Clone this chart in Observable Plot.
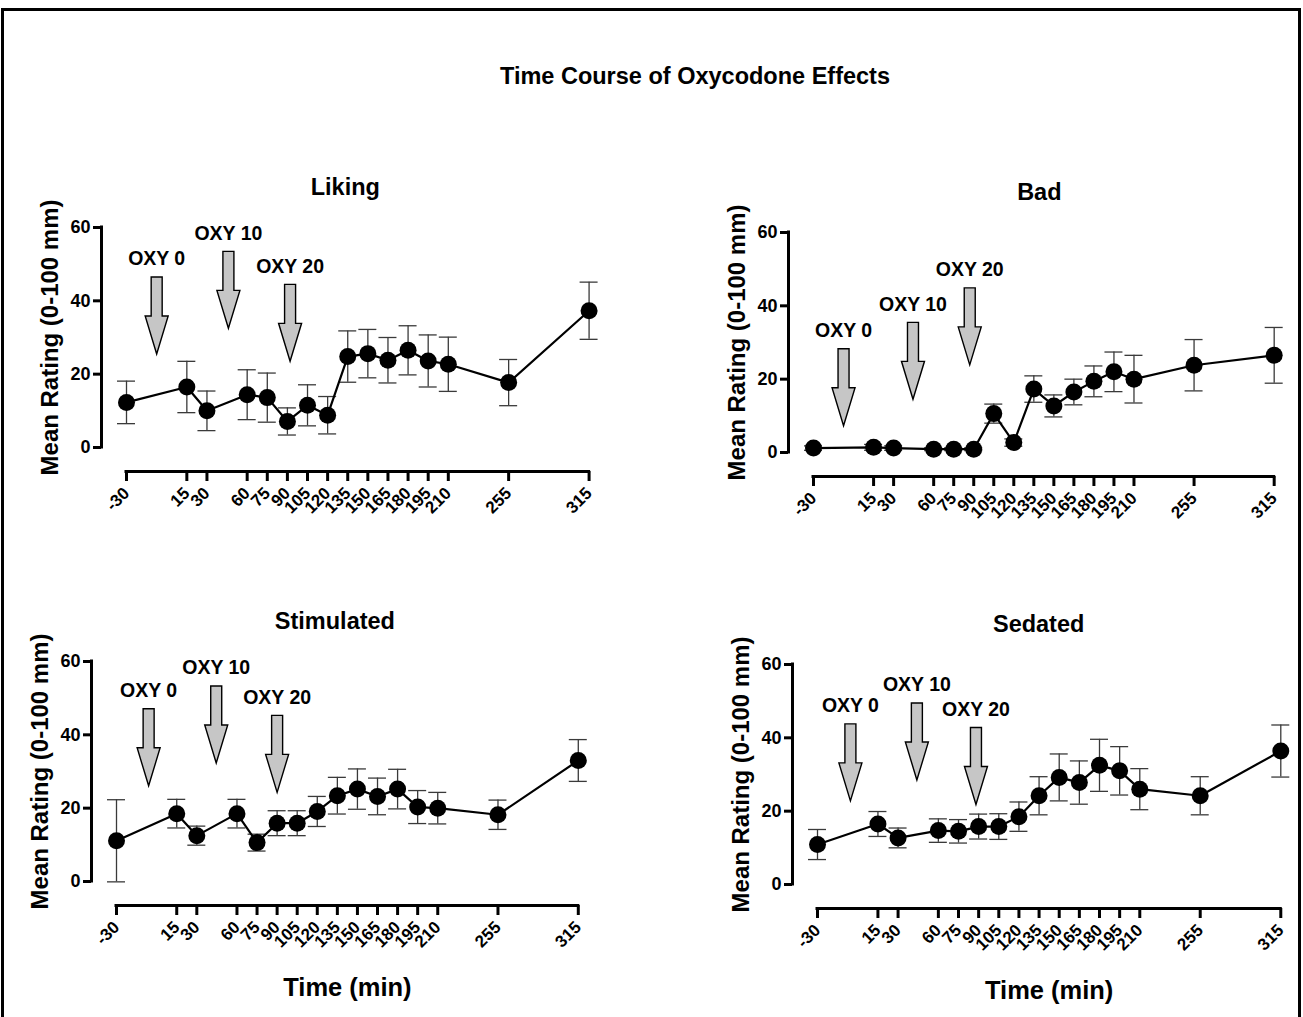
<!DOCTYPE html>
<html><head><meta charset="utf-8">
<script src="https://cdn.jsdelivr.net/npm/d3@7"></script>
<script src="https://cdn.jsdelivr.net/npm/@observablehq/plot@0.6"></script>
<style>
html,body{margin:0;padding:0;background:#fff;overflow:hidden;}
body{width:1303px;height:1017px;position:relative;font-family:"Liberation Sans",Arial,Helvetica,sans-serif;}
#border{position:absolute;left:1px;top:8px;width:1300px;height:1100px;border:3px solid #000;box-sizing:border-box;}
#title{position:absolute;left:0;width:1390px;top:62px;text-align:center;font-weight:bold;font-size:23.5px;line-height:28px;}
.panel{position:absolute;}
</style></head><body>
<div id="border"></div>
<div id="title">Time Course of Oxycodone Effects</div>
<script>
// ---- data ----
const times = [-30, 15, 30, 60, 75, 90, 105, 120, 135, 150, 165, 180, 195, 210, 255, 315];
const xTicks = [-30, 15, 30, 60, 75, 90, 105, 120, 135, 150, 165, 180, 195, 210, 255, 315];
const yTicks = [0, 20, 40, 60];
const panelTitles = ["Liking", "Bad", "Stimulated", "Sedated"];
const yLabel = "Mean Rating (0-100 mm)";
const xLabel = "Time (min)";
const doseLabels = ["OXY 0", "OXY 10", "OXY 20"];

const likingMean = [12.3, 16.5, 10.0, 14.4, 13.6, 7.1, 11.5, 8.8, 24.8, 25.6, 23.8, 26.5, 23.6, 22.7, 17.7, 37.3];
const likingSem  = [5.8, 7.0, 5.4, 6.8, 6.7, 3.7, 5.6, 5.1, 7.0, 6.6, 6.2, 6.7, 7.1, 7.4, 6.3, 7.8];
const badMean = [1.2, 1.4, 1.2, 0.9, 0.9, 0.9, 10.6, 2.7, 17.3, 12.7, 16.5, 19.4, 22.0, 20.0, 23.8, 26.5];
const badSem  = [0.6, 0.8, 0.6, 0.4, 0.4, 0.4, 2.6, 1.0, 3.6, 3.0, 3.5, 4.2, 5.4, 6.5, 7.0, 7.6];
const stimMean = [11.1, 18.5, 12.5, 18.5, 10.6, 15.9, 15.9, 19.1, 23.4, 25.2, 23.2, 25.2, 20.3, 20.0, 18.2, 33.0];
const stimSem  = [11.2, 3.9, 2.6, 3.9, 2.3, 3.4, 3.4, 4.1, 5.0, 5.5, 5.0, 5.4, 4.5, 4.3, 4.0, 5.7];
const sedMean = [10.9, 16.5, 12.7, 14.7, 14.5, 15.8, 15.8, 18.5, 24.2, 29.2, 27.8, 32.5, 31.0, 26.0, 24.2, 36.4];
const sedSem  = [4.1, 3.4, 2.7, 3.2, 3.2, 3.4, 3.5, 4.0, 5.2, 6.4, 5.9, 7.1, 6.6, 5.6, 5.2, 7.1];

// dose arrows: time position and tip rating
const likingArrowX = [-7.5, 46, 92];
const likingArrowTip = [25.5, 32.5, 23.5];
const badArrowX = [-7.5, 44.5, 87];
const badArrowTip = [7.3, 14.5, 23.9];
const stimArrowX = [-6, 44.5, 90];
const stimArrowTip = [26.1, 32.3, 24.3];
const sedArrowX = [-5.5, 44, 88];
const sedArrowTip = [22.8, 28.5, 21.8];

// ---- layout (page pixels) ----
const layout = [
  {axisX: 100.7, xEnd: 588.3, top: 227.3, xLab: false, titleDx: 0},
  {axisX: 788.3, xEnd: 1274, top: 232.3, xLab: false, titleDx: 8},
  {axisX: 90.7, xEnd: 577.5, top: 660.7, xLab: true, titleDx: 0},
  {axisX: 791.7, xEnd: 1280, top: 664, xLab: true, titleDx: 2}
];
const series = [
  [likingMean, likingSem, likingArrowX, likingArrowTip],
  [badMean, badSem, badArrowX, badArrowTip],
  [stimMean, stimSem, stimArrowX, stimArrowTip],
  [sedMean, sedSem, sedArrowX, sedArrowTip]
];

const arrowSymbol = {
  draw(ctx) {
    ctx.moveTo(0, 0);
    ctx.lineTo(-11.5, -38);
    ctx.lineTo(-5.5, -38);
    ctx.lineTo(-5.5, -77);
    ctx.lineTo(5.5, -77);
    ctx.lineTo(5.5, -38);
    ctx.lineTo(11.5, -38);
    ctx.closePath();
  }
};

const FONT = "Liberation Sans, Arial, Helvetica, sans-serif";
const ML = 100, MT = 80, MR = 20, MB = 120;
const PLOT_H = 220, X_GAP = 24, Y_GAP = 25;

layout.forEach((g, i) => {
  const [mean, sem, ax, at] = series[i];
  const data = times.map((t, k) => ({t, m: mean[k], s: sem[k]}));
  const arrows = doseLabels.map((label, k) => ({label, x: ax[k], tip: at[k]}));
  const frameW = g.xEnd - g.axisX;
  const width = ML + frameW + MR;
  const height = MT + PLOT_H + X_GAP + MB;
  const xDom = [xTicks[0], xTicks[xTicks.length - 1]];
  const yDom = [yTicks[0], yTicks[yTicks.length - 1]];
  const marks = [
    Plot.ruleX([xDom[0]], {y1: yDom[0], y2: yDom[1], dx: -Y_GAP, stroke: "black", strokeWidth: 3, strokeLinecap: "square"}),
    Plot.ruleY([yDom[0]], {x1: xDom[0], x2: xDom[1], dy: X_GAP, stroke: "black", strokeWidth: 3, strokeLinecap: "square"}),
    Plot.axisY({ticks: yTicks, tickSize: 8, tickPadding: 3, strokeWidth: 3, fontSize: 18, fontWeight: "bold", tickFormat: d => String(d), label: null}),
    Plot.axisX({ticks: xTicks, tickSize: 10, tickPadding: 9, tickRotate: -45, strokeWidth: 3, fontSize: 17, fontWeight: "bold", tickFormat: d => String(d), label: null}),
    Plot.ruleX(data, {x: "t", y1: d => d.m - d.s, y2: d => d.m + d.s, stroke: "#3a3a3a", strokeWidth: 1.3}),
    Plot.ruleY(data, {x1: "t", x2: "t", y: d => d.m + d.s, insetLeft: -9, insetRight: -9, stroke: "#3a3a3a", strokeWidth: 1.3}),
    Plot.ruleY(data, {x1: "t", x2: "t", y: d => d.m - d.s, insetLeft: -9, insetRight: -9, stroke: "#3a3a3a", strokeWidth: 1.3}),
    Plot.line(data, {x: "t", y: "m", stroke: "black", strokeWidth: 2.2}),
    Plot.dot(data, {x: "t", y: "m", r: 8.5, fill: "black"}),
    Plot.dot(arrows, {x: "x", y: "tip", symbol: arrowSymbol, r: 10, fill: "#c6c6c6", stroke: "black", strokeWidth: 1.4}),
    Plot.text(arrows, {x: "x", y: "tip", text: "label", dy: -95, fontSize: 19.5, fontWeight: "bold", fill: "black"}),
    Plot.text([panelTitles[i]], {frameAnchor: "top", lineAnchor: "middle", textAnchor: "middle", dx: g.titleDx, dy: -40, fontSize: 23.5, fontWeight: "bold", fill: "black"}),
    Plot.text([yLabel], {frameAnchor: "left", y: [(yDom[0] + yDom[1]) / 2], textAnchor: "middle", lineAnchor: "middle", dx: -51, rotate: -90, fontSize: 24, fontWeight: "bold", fill: "black"})
  ];
  if (g.xLab) {
    marks.push(Plot.text([xLabel], {frameAnchor: "bottom", x: [(xDom[0] + xDom[1]) / 2], textAnchor: "middle", lineAnchor: "middle", dy: 82, fontSize: 25.5, fontWeight: "bold", fill: "black"}));
  }
  const svg = Plot.plot({
    width, height,
    marginLeft: ML, marginRight: MR, marginTop: MT, marginBottom: MB,
    x: {domain: xDom, insetLeft: Y_GAP, insetRight: 0},
    y: {domain: yDom, insetBottom: X_GAP, insetTop: 0},
    style: {fontFamily: FONT, fontSize: "15px", color: "black", background: "transparent", overflow: "visible"},
    marks
  });
  svg.classList.add("panel");
  svg.style.left = (g.axisX - ML) + "px";
  svg.style.top = (g.top - MT) + "px";
  svg.style.position = "absolute";
  document.body.appendChild(svg);
});
</script>
</body></html>
